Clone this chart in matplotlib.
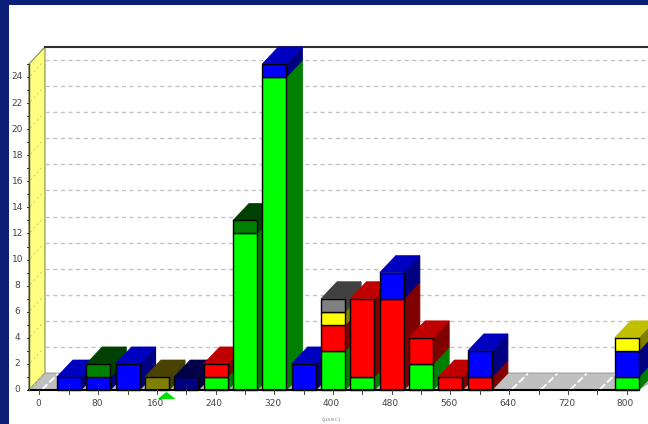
"""Stacked 3D-style histogram with a yellow wall and a grey floor."""
import matplotlib

matplotlib.use("Agg")
import matplotlib.pyplot as plt
from matplotlib.patches import Polygon, Rectangle

BINS = [40, 80, 120, 160, 200, 240, 280, 320, 360, 400, 440, 480, 520, 560, 600, 800]
GREEN = [0, 0, 0, 0, 0, 1, 12, 24, 0, 3, 1, 0, 2, 0, 0, 1]
RED = [0, 0, 0, 0, 0, 1, 0, 0, 0, 2, 6, 7, 2, 1, 1, 0]
BLUE = [1, 1, 2, 0, 0, 0, 0, 1, 2, 0, 0, 2, 0, 0, 2, 2]
DARK_GREEN = [0, 1, 0, 0, 0, 0, 1, 0, 0, 0, 0, 0, 0, 0, 0, 0]
YELLOW = [0, 0, 0, 0, 0, 0, 0, 0, 0, 1, 0, 0, 0, 0, 0, 1]
GRAY = [0, 0, 0, 0, 0, 0, 0, 0, 0, 1, 0, 0, 0, 0, 0, 0]
OLIVE = [0, 0, 0, 1, 0, 0, 0, 0, 0, 0, 0, 0, 0, 0, 0, 0]
NAVY = [0, 0, 0, 0, 1, 0, 0, 0, 0, 0, 0, 0, 0, 0, 0, 0]
X_TICKS = [0, 80, 160, 240, 320, 400, 480, 560, 640, 720, 800]
Y_TICKS = list(range(0, 26, 2))
X_TITLE = "(µsec)"

# bottom-to-top stacking order: values, front, top, side
SERIES = [
    (GREEN, "#00ff00", "#00c000", "#008000"),
    (RED, "#ff0000", "#c00000", "#800000"),
    (BLUE, "#0000ff", "#0000c0", "#000080"),
    (DARK_GREEN, "#008000", "#004000", "#004000"),
    (YELLOW, "#ffff00", "#c0c000", "#808000"),
    (GRAY, "#808080", "#404040", "#404040"),
    (OLIVE, "#808000", "#4a4200", "#404000"),
    (NAVY, "#000080", "#000048", "#000040"),
]

BAR_W = 32.7  # x units
DX, DY = 21.8, 1.3  # depth of the 3D projection, in data units
X_MIN, X_MAX = -14.3, 814
Y_MAX = 25
BORDER = "#0a1f75"

fig = plt.figure(figsize=(6.48, 4.24), dpi=100, facecolor="white")
ax = fig.add_axes([0, 0, 1, 1])
ax.set_xlim(-53.8, 829.2)
ax.set_ylim(-2.607, 29.9)
ax.axis("off")


def face(points, color, edge=None, lw=0.8, z=3):
    ax.add_patch(Polygon(points, closed=True, facecolor=color, edgecolor=edge or color,
                         linewidth=lw, zorder=z, joinstyle="miter"))


# wall and floor
face([(X_MIN, 0), (X_MIN + DX, DY), (X_MIN + DX, Y_MAX + DY), (X_MIN, Y_MAX)], "#ffff80", "#8a8a50", 0.8, 1)
face([(X_MIN, 0), (X_MIN + DX, DY), (X_MAX + 40, DY), (X_MAX, 0)], "#c0c0c0", "#a0a0a0", 0.8, 1)

for v in Y_TICKS:
    if v > 0:
        ax.plot([X_MIN + DX, X_MAX + 40], [v + DY, v + DY], color="#c4c4c4", lw=1,
                ls=(0, (3, 2.5)), zorder=1.5)
    ax.plot([X_MIN + 2, X_MIN + DX - 2], [v + 0.1, v + DY - 0.1], color="#c8c87a", lw=0.7,
            ls=(0, (2, 3)), zorder=1.5)
    ax.text(-30, v, str(v), fontsize=6.5, color="#444444", ha="center", va="center")
for v in range(0, Y_MAX + 1):
    ax.plot([X_MIN - 2.5, X_MIN], [v, v], color="#333333", lw=0.7, zorder=2)

for x in range(20, 800, 40):
    ax.plot([x - 16.3, x - 16.3 + DX], [0.05, DY - 0.05], color="white", lw=1.3,
            ls=(0, (4, 1.5)), zorder=1.5)

ax.plot([X_MIN + DX, X_MAX + 40], [Y_MAX + DY, Y_MAX + DY], color="#303030", lw=1.5, zorder=2)

# stacked bars, left to right so that later fronts cover earlier sides
for i, x in enumerate(BINS):
    left, right = x - BAR_W / 2, x + BAR_W / 2
    bottom = 0
    last_top = None
    for values, front, top_color, side in SERIES:
        v = values[i]
        if v == 0:
            continue
        top = bottom + v
        face([(right, bottom), (right + DX, bottom + DY), (right + DX, top + DY), (right, top)], side, z=3 + i * 0.01)
        ax.add_patch(Rectangle((left, bottom), BAR_W, v, facecolor=front, edgecolor="black",
                               linewidth=1, zorder=3.005 + i * 0.01))
        last_top = (top, top_color)
        bottom = top
    top, top_color = last_top
    face([(left, top), (left + DX, top + DY), (right + DX, top + DY), (right, top)], top_color, top_color, 0.5,
         3.004 + i * 0.01)

# x axis
ax.plot([X_MIN, X_MAX], [0, 0], color="black", lw=1.5, zorder=4)
ax.plot([X_MIN, X_MIN], [0, Y_MAX], color="#444444", lw=1, zorder=4)
for x in range(0, 801, 40):
    ax.plot([x, x], [-0.3, 0], color="#444444", lw=0.7, zorder=4)
for x in X_TICKS:
    ax.text(x - 2, -1.0, str(x), fontsize=6.5, color="#444444", ha="center", va="center")
ax.text(398, -2.3, X_TITLE, fontsize=4.5, color="#999999", ha="center", va="center")

# small marker just under the axis
ax.plot([172], [-0.42], marker=[(-1, -0.4), (1, -0.4), (0, 0.4)], color="#00e000", ms=13, mew=0,
        zorder=4, clip_on=False)

# page border
ax.add_patch(Rectangle((0, 0), 9 / 648, 1, transform=ax.transAxes, color=BORDER, lw=0, zorder=6))
ax.add_patch(Rectangle((0, 1 - 5 / 424), 1, 5 / 424, transform=ax.transAxes, color=BORDER, lw=0, zorder=6))

fig.savefig("out.png", dpi=100)
plt.close(fig)
